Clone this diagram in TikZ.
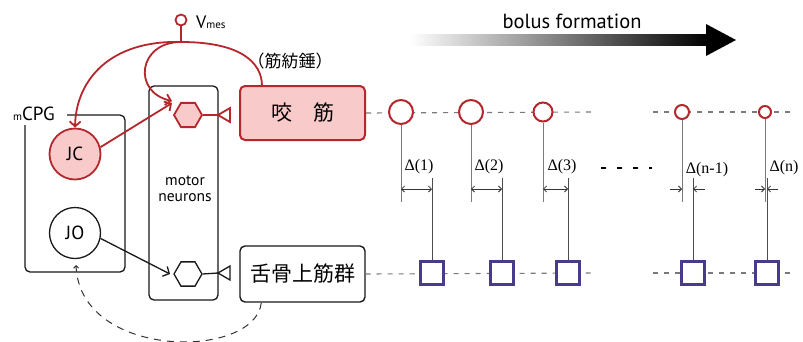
\documentclass[tikz,border=0pt]{standalone}
\usepackage{fontspec}
\setmainfont{PT Sans}
\newfontfamily\jp{Noto Sans CJK JP}
\newfontfamily\tms{Liberation Serif}
\usetikzlibrary{shapes.geometric,arrows.meta}
\definecolor{myred}{HTML}{B5272D}
\definecolor{mypink}{HTML}{F9CACA}
\definecolor{mypurple}{HTML}{4A3A8C}
\definecolor{mygray}{HTML}{7A7A7A}
\tikzset{
  redline/.style={draw=myred, line width=1.8pt},
  blackline/.style={draw=black!90, line width=1.3pt},
  musclebox/.style={rectangle, rounded corners=5pt, minimum width=125pt, font=\jp\fontsize{21}{24}\selectfont},
  hexa/.style={regular polygon, regular polygon sides=6, minimum size=28pt, inner sep=0pt},
  neuron/.style={circle, minimum size=51pt, inner sep=0pt, font=\fontsize{19}{21}\selectfont},
  spindle/.style={circle, draw=myred, fill=white, line width=2pt, inner sep=0pt},
  sqbox/.style={rectangle, draw=mypurple, fill=white, line width=2.2pt, minimum size=23pt, inner sep=0pt},
  barb/.style={-{Straight Barb[length=5pt,width=11pt]}},
  dimline/.style={draw=black!80, line width=0.8pt},
  dimarrow/.style={{Straight Barb[length=3pt,width=6pt]}-{Straight Barb[length=3pt,width=6pt]}},
  onearrow/.style={-{Straight Barb[length=3pt,width=6pt]}},
  dlabel/.style={font=\tms\fontsize{16}{18}\selectfont, inner sep=0pt},
  track/.style={draw=mygray, line width=1.1pt, dash pattern=on 5pt off 6pt},
  stem/.style={draw=mygray, line width=1pt},
  sqstem/.style={draw=black!70, line width=0.8pt},
}
\begin{document}
\begin{tikzpicture}[x=1pt,y=-1pt]
\useasboundingbox (0,0) rectangle (803,341);

% ---------- left part ----------
% mCPG box
\draw[blackline, rounded corners=5pt] (67,115) -- (125,115) -- (125,272) -- (25,272) -- (25,125);
\node[inner sep=0pt, anchor=base] (mcpg) at (34,120) {{\fontsize{11}{12}\selectfont m}{\fontsize{19}{20}\selectfont CPG}};

% neurons
\node[neuron, draw=myred, fill=mypink, line width=1.8pt] (jc) at (75,154) {JC};
\node[neuron, draw=black!90, fill=white, line width=1.3pt] (jo) at (75,233) {JO};

% motor neurons box
\node[rectangle, rounded corners=5pt, blackline, minimum width=69pt, minimum height=214pt] (mn) at (183.5,193) {};
\node[align=center, font=\fontsize{15.5}{16}\selectfont, inner sep=0pt] (mnl) at (185,189) {motor\\neurons};

% hexagons
\node[hexa, draw=myred, fill=mypink, line width=1.8pt] (h1) at (188,115) {};
\node[hexa, draw=black!90, fill=white, line width=1.3pt] (h2) at (188,274) {};

% muscle boxes
\node[musclebox, draw=myred, fill=mypink, line width=2pt, minimum height=54pt] (bite) at (302.5,113) {咬　筋};
\node[musclebox, draw=black!90, fill=white, line width=1.4pt, minimum height=56pt] (hyo) at (302.5,274) {舌骨上筋群};

% triangles (endplates)
\coordinate (t1) at (218,115);
\coordinate (t2) at (218,273);
\draw[redline] (h1.east) -- (t1);
\draw[redline, fill=white] (t1) -- (230,108) -- (230,122) -- cycle;
\draw[blackline] (h2.east) -- (t2);
\draw[blackline, fill=white] (t2) -- (230,266) -- (230,280) -- cycle;

% V_mes
\node[circle, draw=myred, fill=white, line width=1.8pt, minimum size=11pt, inner sep=0pt] (vm) at (181,20) {};
\node[anchor=base west, inner sep=0pt] (vml) at (196,28) {{\fontsize{18}{20}\selectfont V}{\fontsize{11}{12}\selectfont mes}};
\coordinate (junc) at (181,42);
\draw[redline] (vm.south) -- (junc);

% spindle label
\node[font=\jp\fontsize{17}{19}\selectfont, inner sep=0pt] (spl) at (290,61) {（筋紡錘）};

% red afferent curves
\coordinate (sp) at (262,86);
\coordinate (h1in) at (172,101);
\draw[redline, barb] (junc) .. controls (110,40) and (76,80) .. (jc.north);
\draw[redline] (junc) .. controls (240,42) and (262,62) .. (sp);
\draw[redline, barb] (junc) .. controls (138,42) and (132,92) .. (h1in);
\draw[redline, barb] (jc.15) -- (172,103);

% JO -> lower hexagon
\coordinate (h2in) at (170,274);
\draw[blackline, barb] (jo.-12) -- (h2in);

% dashed feedback
\coordinate (jofb) at (76,265);
\draw[draw=black!80, line width=1pt, dash pattern=on 7pt off 6pt, -{Straight Barb[length=2.5pt,width=5pt]}] (hyo.south west) ++(22,0) .. controls (255,360) and (80,360) .. (jofb);

% ---------- right part ----------
% bolus formation arrow
\shade[left color=white, right color=black, draw=none] (410,34) rectangle (708,45);
\fill[black] (706,24) -- (736,40) -- (706,56) -- cycle;
\node[anchor=base, font=\fontsize{20.5}{22}\selectfont, inner sep=0pt] (bf) at (572,28) {bolus formation};

% tracks
\draw[track] (bite.east) -- (596,112);
\draw[track] (653,112) -- (793,112);
\draw[track] (hyo.east) -- (596,273);
\draw[track] (653,273) -- (793,273);

% stems from spindles
\foreach \n/\x/\s in {1/401/24, 2/471/24, 3/543/19, 4/682/14, 5/765/12}{
  \node[spindle, minimum size=\s pt] (c\n) at (\x,112) {};
  \coordinate (ce\n) at (\x,202);
  \draw[stem] (c\n.south) -- (ce\n);
}
\foreach \n/\x in {1/432, 2/502, 3/568, 4/693, 5/767}{
  \node[sqbox] (s\n) at (\x,273) {};
  \coordinate (se\n) at (\x,178);
  \draw[sqstem] (s\n.north) -- (se\n);
}

% dimension arrows
\draw[dimline, dimarrow] (401,189) -- (432,189);
\draw[dimline, dimarrow] (471,189) -- (502,189);
\draw[dimline, dimarrow] (543,189) -- (568,189);
\draw[dimline, onearrow] (670,189) -- (682,189);
\draw[dimline, onearrow] (705,189) -- (693,189);
\draw[dimline, onearrow] (755,189) -- (765,189);
\draw[dimline, onearrow] (778,189) -- (767,189);

% labels
\node[dlabel] (d1) at (419,167) {Δ(1)};
\node[dlabel] (d2) at (489,167) {Δ(2)};
\node[dlabel] (d3) at (562,167) {Δ(3)};
\node[dlabel] (d4) at (707,170) {Δ(n-1)};
\node[dlabel] (d5) at (784,168) {Δ(n)};
\draw[black, line width=1.8pt, dash pattern=on 5pt off 11pt] (601,168) -- (652,168);

\end{tikzpicture}
\end{document}
